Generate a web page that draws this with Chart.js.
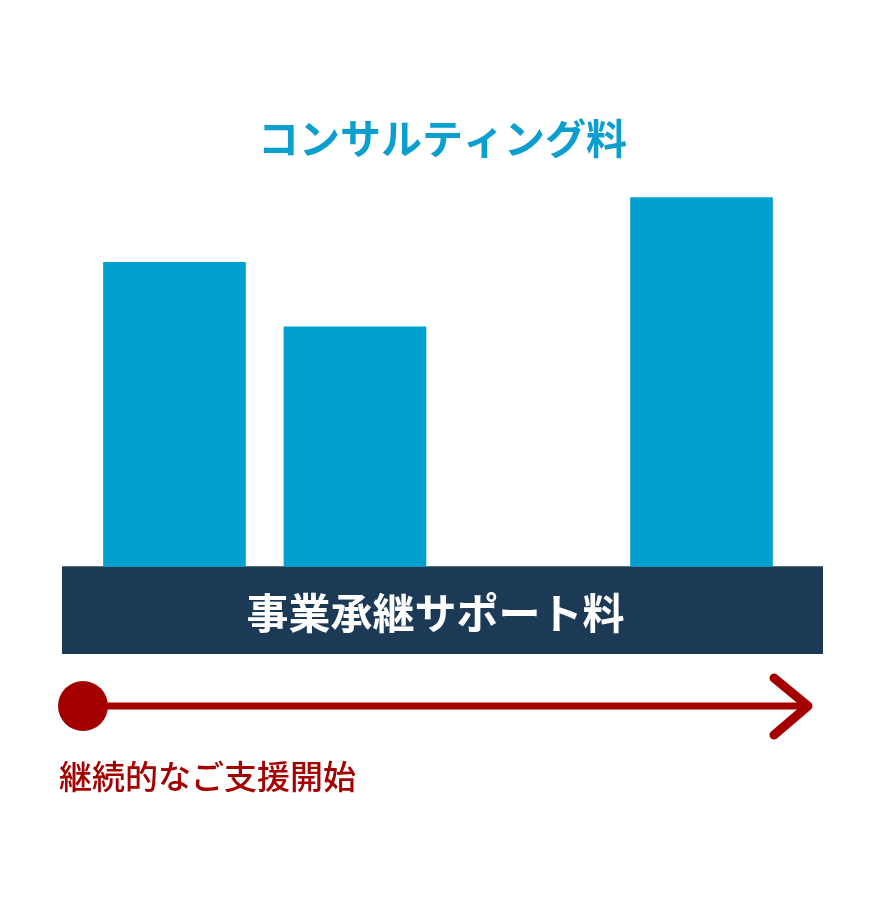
<!DOCTYPE html>
<html><head><meta charset="utf-8">
<script src="https://cdn.jsdelivr.net/npm/chart.js@4/dist/chart.umd.min.js"></script>
<style>html,body{margin:0;padding:0;background:#fff;}canvas{display:block;}</style>
</head><body>
<canvas id="c" width="870" height="900"></canvas>
<script>
// ---- data ----
const stages = ['第1期', '第2期', '第3期'];
const stagePositions = [1, 2, 3.92];
const consultingFees = [80, 63, 97];
const supportFeeLabels = ['事業承継サポート料'];
const supportFees = [23];
const titleText = 'コンサルティング料';
const timelineLabel = '継続的なご支援開始';

const BLUE = '#00a0cf';
const NAVY = '#1c3a55';
const RED = '#a50000';
const JP = '"Noto Sans CJK JP", "Noto Sans", sans-serif';

const decor = {
  id: 'decor',
  afterDatasetsDraw(chart) {
    const ctx = chart.ctx;
    const area = chart.chartArea;
    const band = chart.getDatasetMeta(1).data[0];
    ctx.save();
    // band label
    ctx.fillStyle = '#ffffff';
    ctx.font = 'bold 42px ' + JP;
    ctx.textAlign = 'center';
    ctx.textBaseline = 'middle';
    ctx.fillText(supportFeeLabels[0], band.x - 7, (band.y + band.base) / 2 + 3);
    // timeline arrow
    const ay = area.bottom + 52;
    const ax0 = area.left + 21;
    const tip = area.right - 15;
    ctx.strokeStyle = RED;
    ctx.fillStyle = RED;
    ctx.lineWidth = 7;
    ctx.beginPath();
    ctx.moveTo(ax0, ay);
    ctx.lineTo(tip - 2, ay);
    ctx.stroke();
    ctx.lineWidth = 9;
    ctx.lineCap = 'round';
    ctx.lineJoin = 'round';
    ctx.beginPath();
    ctx.moveTo(tip - 34, ay - 28);
    ctx.lineTo(tip, ay);
    ctx.lineTo(tip - 34, ay + 29);
    ctx.stroke();
    ctx.beginPath();
    ctx.arc(ax0, ay, 25, 0, Math.PI * 2);
    ctx.fill();
    // timeline label
    ctx.font = '500 33px ' + JP;
    ctx.textAlign = 'left';
    ctx.textBaseline = 'middle';
    ctx.fillText(timelineLabel, area.left - 3, area.bottom + 122);
    ctx.restore();
  }
};

new Chart(document.getElementById('c'), {
  type: 'bar',
  data: {
    datasets: [
      {
        label: titleText,
        xAxisID: 'x',
        data: stagePositions.map((p, i) => ({ x: p, y: consultingFees[i], stage: stages[i] })),
        backgroundColor: BLUE,
        barThickness: 142,
        grouped: false,
        borderWidth: 0
      },
      {
        label: supportFeeLabels[0],
        xAxisID: 'x2',
        data: supportFeeLabels.map((l, i) => ({ x: l, y: [-supportFees[i], 0] })),
        backgroundColor: NAVY,
        barPercentage: 1,
        categoryPercentage: 1,
        grouped: false,
        borderWidth: 0
      }
    ]
  },
  options: {
    responsive: false,
    animation: false,
    devicePixelRatio: 1,
    layout: { padding: { top: 100, left: 62, right: 47, bottom: 246 } },
    scales: {
      x: { type: 'linear', min: 0.377, max: 4.593, offset: false, display: false },
      x2: { type: 'category', labels: supportFeeLabels, offset: true, display: false },
      y: { min: -23, max: 100, display: false }
    },
    plugins: {
      legend: { display: false },
      tooltip: { enabled: false },
      title: {
        display: true,
        text: titleText,
        color: '#0a9fcf',
        font: { family: JP, size: 41, weight: 'bold' },
        padding: { top: 14, bottom: 23 }
      }
    }
  },
  plugins: [decor]
});
</script>
</body></html>
